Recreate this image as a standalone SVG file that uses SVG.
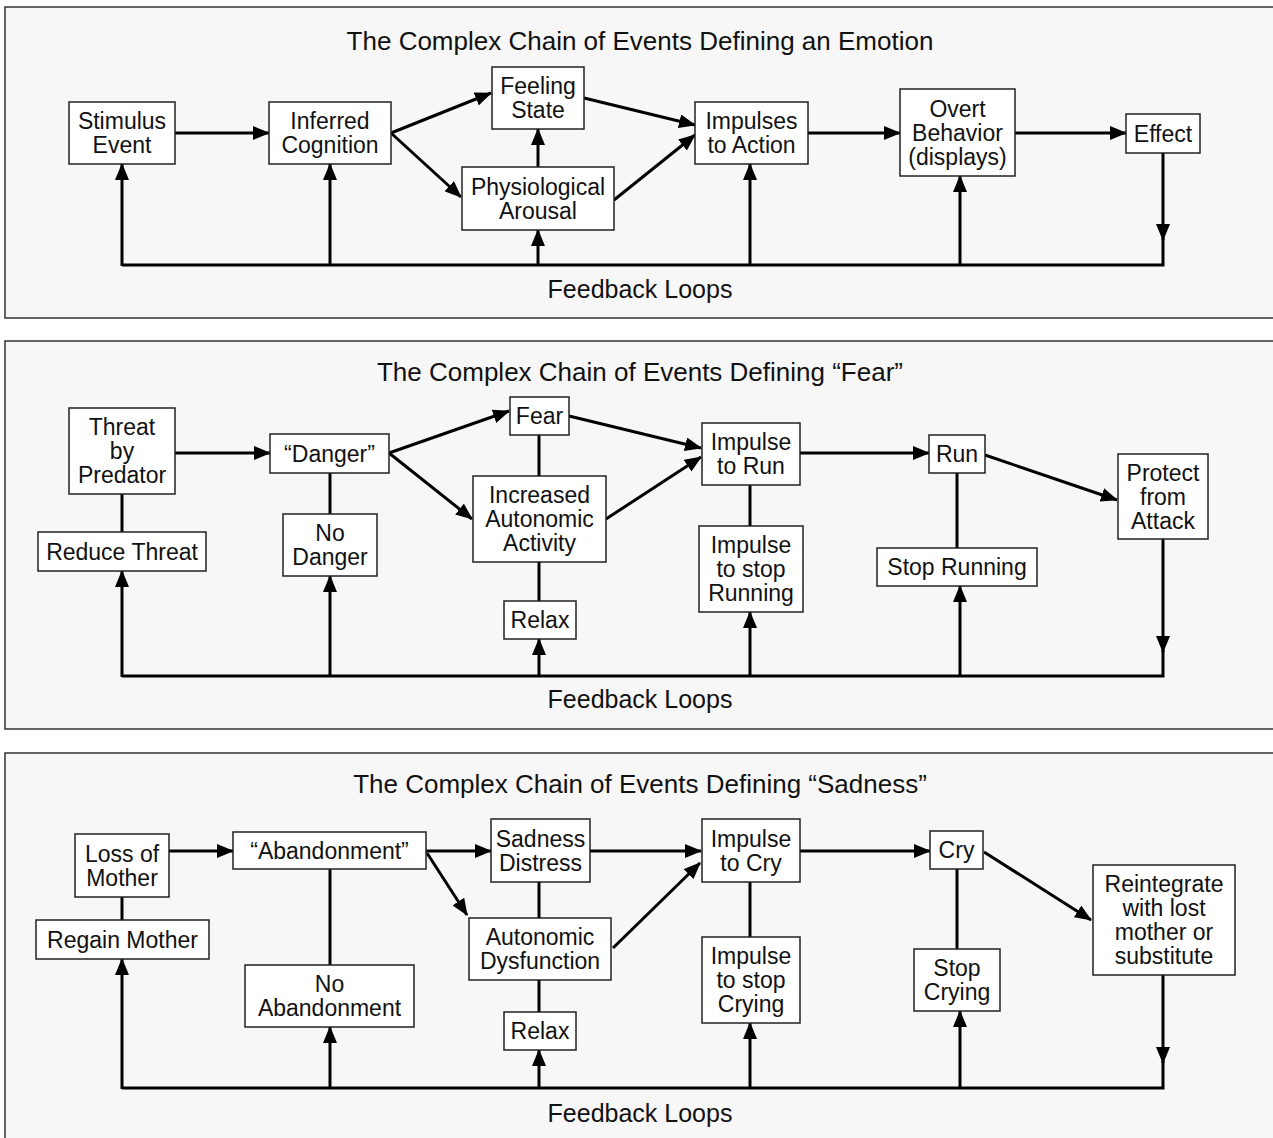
<svg xmlns="http://www.w3.org/2000/svg" width="1273" height="1138" viewBox="0 0 1273 1138">
<defs>
<marker id="ah" markerUnits="userSpaceOnUse" markerWidth="17" markerHeight="14" refX="16" refY="7" orient="auto"><path d="M0,0 L17,7 L0,14 Z" fill="#000"/></marker>
<style>
.panel{fill:#f7f7f7;stroke:#333;stroke-width:1.5}
.box{fill:#fff;stroke:#222;stroke-width:1.5}
.t{font-family:"Liberation Sans",Arial,sans-serif;font-size:23px;fill:#111;text-anchor:middle}
.title{font-family:"Liberation Sans",Arial,sans-serif;font-size:26px;fill:#111;text-anchor:middle}
.fb{font-family:"Liberation Sans",Arial,sans-serif;font-size:25px;fill:#111;text-anchor:middle}
.c{fill:none;stroke:#000;stroke-width:3}
.a{marker-end:url(#ah)}
</style>
</defs>
<rect class="panel" x="5" y="7" width="1270" height="311"/>
<rect class="panel" x="5" y="341" width="1270" height="388"/>
<rect class="panel" x="5" y="753" width="1270" height="390"/>
<g id="titles">
<text class="title" x="640" y="50">The Complex Chain of Events Defining an Emotion</text>
<text class="fb" x="640" y="298">Feedback Loops</text>
<text class="title" x="640" y="381">The Complex Chain of Events Defining “Fear”</text>
<text class="fb" x="640" y="708">Feedback Loops</text>
<text class="title" x="640" y="793">The Complex Chain of Events Defining “Sadness”</text>
<text class="fb" x="640" y="1122">Feedback Loops</text>
</g>
<g id="connectors">
<path class="c a" d="M175,133 H269"/>
<path class="c a" d="M391,133 L491,93"/>
<path class="c a" d="M391,133 L461,197"/>
<path class="c a" d="M538,167 V129"/>
<path class="c a" d="M584,98 L695,125"/>
<path class="c a" d="M614,200 L695,135"/>
<path class="c a" d="M808,133 H900"/>
<path class="c a" d="M1015,133 H1126"/>
<path class="c a" d="M1163,153 V240"/>
<path class="c" d="M1163,238 V265 H122"/>
<path class="c a" d="M122,266 V164"/>
<path class="c a" d="M330,266 V164"/>
<path class="c a" d="M538,266 V230"/>
<path class="c a" d="M750,266 V164"/>
<path class="c a" d="M960,266 V176"/>

<path class="c a" d="M175,453 H270"/>
<path class="c a" d="M389,453 L509,411"/>
<path class="c a" d="M389,453 L472,519"/>
<path class="c a" d="M569,416 L701,448"/>
<path class="c a" d="M606,519 L701,457"/>
<path class="c a" d="M800,453 H929"/>
<path class="c a" d="M985,455 L1117,500"/>
<path class="c a" d="M1163,539 V652"/>
<path class="c" d="M1163,650 V676 H122"/>
<path class="c a" d="M122,677 V571"/>
<path class="c a" d="M330,677 V576"/>
<path class="c a" d="M539,677 V639"/>
<path class="c a" d="M750,677 V612"/>
<path class="c a" d="M960,677 V586"/>
<path class="c" d="M122,494 V532"/>
<path class="c" d="M330,473 V514"/>
<path class="c" d="M539,435 V476"/>
<path class="c" d="M539,562 V601"/>
<path class="c" d="M750,485 V526"/>
<path class="c" d="M957,473 V548"/>

<path class="c a" d="M169,851 H233"/>
<path class="c a" d="M426,851 H491"/>
<path class="c a" d="M427,853 L467,915"/>
<path class="c a" d="M590,851 H701"/>
<path class="c a" d="M613,948 L700,863"/>
<path class="c a" d="M800,851 H930"/>
<path class="c a" d="M984,852 L1091,920"/>
<path class="c a" d="M1163,975 V1063"/>
<path class="c" d="M1163,1061 V1088 H122"/>
<path class="c a" d="M122,1089 V959"/>
<path class="c a" d="M330,1089 V1027"/>
<path class="c a" d="M539,1089 V1050"/>
<path class="c a" d="M750,1089 V1023"/>
<path class="c a" d="M960,1089 V1011"/>
<path class="c" d="M122,897 V920"/>
<path class="c" d="M330,869 V965"/>
<path class="c" d="M539,882 V918"/>
<path class="c" d="M539,980 V1012"/>
<path class="c" d="M750,882 V937"/>
<path class="c" d="M957,869 V949"/>
</g>

<g id="stimulus-event"><rect class="box" x="69" y="102" width="106" height="62"/><text class="t" x="122" y="129">Stimulus</text><text class="t" x="122" y="153">Event</text></g>
<g id="inferred-cognition"><rect class="box" x="269" y="102" width="122" height="62"/><text class="t" x="330" y="129">Inferred</text><text class="t" x="330" y="153">Cognition</text></g>
<g id="feeling-state"><rect class="box" x="492" y="67" width="92" height="62"/><text class="t" x="538" y="94">Feeling</text><text class="t" x="538" y="118">State</text></g>
<g id="physiological-arousal"><rect class="box" x="462" y="167" width="152" height="63"/><text class="t" x="538" y="194.5">Physiological</text><text class="t" x="538" y="218.5">Arousal</text></g>
<g id="impulses-to-action"><rect class="box" x="695" y="102" width="113" height="62"/><text class="t" x="751.5" y="129">Impulses</text><text class="t" x="751.5" y="153">to Action</text></g>
<g id="overt-behavior"><rect class="box" x="900" y="89" width="115" height="87"/><text class="t" x="957.5" y="116.5">Overt</text><text class="t" x="957.5" y="140.5">Behavior</text><text class="t" x="957.5" y="164.5">(displays)</text></g>
<g id="effect"><rect class="box" x="1126" y="114" width="74" height="39"/><text class="t" x="1163" y="141.5">Effect</text></g>

<g id="threat-by-predator"><rect class="box" x="69" y="408" width="106" height="86"/><text class="t" x="122" y="435">Threat</text><text class="t" x="122" y="459">by</text><text class="t" x="122" y="483">Predator</text></g>
<g id="reduce-threat"><rect class="box" x="38" y="532" width="168" height="39"/><text class="t" x="122" y="559.5">Reduce Threat</text></g>
<g id="danger"><rect class="box" x="270" y="434" width="119" height="39"/><text class="t" x="329.5" y="461.5">“Danger”</text></g>
<g id="no-danger"><rect class="box" x="283" y="514" width="94" height="62"/><text class="t" x="330" y="541">No</text><text class="t" x="330" y="565">Danger</text></g>
<g id="fear"><rect class="box" x="510" y="397" width="59" height="38"/><text class="t" x="539.5" y="424">Fear</text></g>
<g id="increased-autonomic-activity"><rect class="box" x="473" y="476" width="133" height="86"/><text class="t" x="539.5" y="503">Increased</text><text class="t" x="539.5" y="527">Autonomic</text><text class="t" x="539.5" y="551">Activity</text></g>
<g id="relax-fear"><rect class="box" x="504" y="601" width="72" height="38"/><text class="t" x="540" y="628">Relax</text></g>
<g id="impulse-to-run"><rect class="box" x="702" y="423" width="98" height="62"/><text class="t" x="751" y="450">Impulse</text><text class="t" x="751" y="474">to Run</text></g>
<g id="impulse-to-stop-running"><rect class="box" x="699" y="526" width="104" height="86"/><text class="t" x="751" y="553">Impulse</text><text class="t" x="751" y="577">to stop</text><text class="t" x="751" y="601">Running</text></g>
<g id="run"><rect class="box" x="929" y="435" width="56" height="38"/><text class="t" x="957" y="462">Run</text></g>
<g id="stop-running"><rect class="box" x="877" y="548" width="160" height="38"/><text class="t" x="957" y="575">Stop Running</text></g>
<g id="protect-from-attack"><rect class="box" x="1118" y="454" width="90" height="85"/><text class="t" x="1163" y="480.5">Protect</text><text class="t" x="1163" y="504.5">from</text><text class="t" x="1163" y="528.5">Attack</text></g>

<g id="loss-of-mother"><rect class="box" x="75" y="834" width="94" height="63"/><text class="t" x="122" y="861.5">Loss of</text><text class="t" x="122" y="885.5">Mother</text></g>
<g id="regain-mother"><rect class="box" x="36" y="920" width="173" height="39"/><text class="t" x="122.5" y="947.5">Regain Mother</text></g>
<g id="abandonment"><rect class="box" x="233" y="832" width="193" height="37"/><text class="t" x="329.5" y="858.5">“Abandonment”</text></g>
<g id="no-abandonment"><rect class="box" x="245" y="965" width="169" height="62"/><text class="t" x="329.5" y="992">No</text><text class="t" x="329.5" y="1016">Abandonment</text></g>
<g id="sadness-distress"><rect class="box" x="491" y="819" width="99" height="63"/><text class="t" x="540.5" y="846.5">Sadness</text><text class="t" x="540.5" y="870.5">Distress</text></g>
<g id="autonomic-dysfunction"><rect class="box" x="469" y="918" width="142" height="62"/><text class="t" x="540" y="945">Autonomic</text><text class="t" x="540" y="969">Dysfunction</text></g>
<g id="relax-sadness"><rect class="box" x="504" y="1012" width="72" height="38"/><text class="t" x="540" y="1039">Relax</text></g>
<g id="impulse-to-cry"><rect class="box" x="702" y="819" width="98" height="63"/><text class="t" x="751" y="846.5">Impulse</text><text class="t" x="751" y="870.5">to Cry</text></g>
<g id="impulse-to-stop-crying"><rect class="box" x="702" y="937" width="98" height="86"/><text class="t" x="751" y="964">Impulse</text><text class="t" x="751" y="988">to stop</text><text class="t" x="751" y="1012">Crying</text></g>
<g id="cry"><rect class="box" x="930" y="831" width="53" height="38"/><text class="t" x="956.5" y="858">Cry</text></g>
<g id="stop-crying"><rect class="box" x="914" y="949" width="86" height="62"/><text class="t" x="957" y="976">Stop</text><text class="t" x="957" y="1000">Crying</text></g>
<g id="reintegrate"><rect class="box" x="1093" y="865" width="142" height="110"/><text class="t" x="1164" y="892">Reintegrate</text><text class="t" x="1164" y="916">with lost</text><text class="t" x="1164" y="940">mother or</text><text class="t" x="1164" y="964">substitute</text></g>
</svg>
